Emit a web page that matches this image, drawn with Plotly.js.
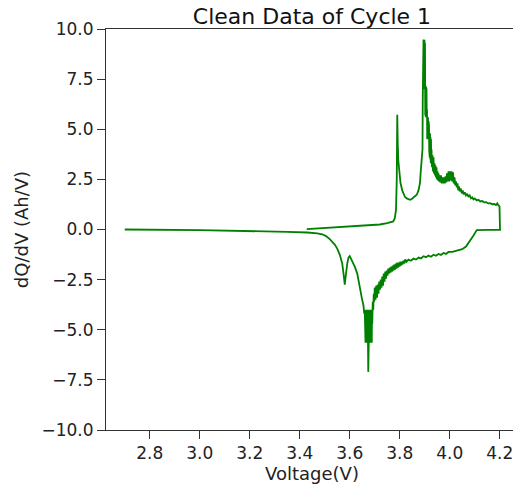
<!DOCTYPE html>
<html>
<head>
<meta charset="utf-8">
<script src="https://cdn.plot.ly/plotly-3.0.1.min.js"></script>
<style>html,body{margin:0;padding:0;overflow:hidden;background:#fff;}#chart{width:520px;height:486px;}</style>
</head>
<body>
<div id="chart"></div>
<script>
// Charge branch (3.43 V -> 4.20 V)
const chargeVoltage = [3.428,3.50,3.60,3.70,3.72,3.75,3.774,3.780,3.785,3.788,3.790,3.792,3.794,3.797,3.803,3.810,3.816,3.821,3.828,3.834,3.841,3.848,3.855,3.862,3.868,3.875,3.881,3.884,3.888,3.891,
  3.892,3.893,3.894,3.895,3.896,3.897,3.898,3.899,3.900,3.901,3.902,3.903,3.904,3.905,3.906,3.907,3.908,3.909,3.910,3.911,3.912,3.913,3.914,3.915,3.916,3.917,3.918,3.919,3.920,3.921,3.922,3.923,3.924,3.925,3.926,3.927,
  3.929,3.931,3.933,3.935,3.937,3.939,3.941,3.943,3.945,3.947,3.949,3.951,3.953,3.955,3.957,3.959,3.962,3.965,3.968,3.971,3.974,3.977,3.980,3.983,3.986,3.989,3.992,3.995,3.998,4.001,4.004,4.007,4.010,4.013,4.016,4.019,4.022,4.025,4.028,4.031,4.034,4.037,4.040,4.044,4.048,4.052,4.056,4.060,4.065,4.070,4.075,4.080,4.085,4.090,4.095,4.100,4.108,4.115,4.122,4.130,4.138,4.146,4.154,4.162,4.170,4.178,4.185,4.190,4.195,4.199,4.201];
const chargeDqdv = [0.02,0.08,0.15,0.23,0.25,0.32,0.40,0.55,0.98,2.5,5.72,4.3,3.48,3.0,2.32,1.95,1.75,1.62,1.55,1.50,1.48,1.52,1.58,1.65,1.73,1.95,2.32,2.9,3.6,4.0,
  6.5,9.47,7.0,9.47,7.0,9.47,7.0,9.47,7.1,9.3,5.7,7.2,5.6,7.1,5.6,7.0,5.6,6.0,4.5,5.6,4.5,5.6,4.5,5.4,4.5,5.2,3.9,4.8,3.6,4.8,3.5,4.6,3.3,4.5,3.3,4.0,
  3.1,3.7,2.9,3.6,2.8,3.3,2.7,3.2,2.6,3.1,2.5,2.9,2.45,2.8,2.4,2.7,2.35,2.7,2.3,2.6,2.3,2.6,2.3,2.65,2.35,2.8,2.4,2.9,2.4,2.9,2.45,2.9,2.4,2.85,2.3,2.6,2.2,2.4,2.1,2.3,1.95,2.15,1.9,2.05,1.8,1.95,1.75,1.85,1.7,1.78,1.62,1.7,1.55,1.6,1.5,1.55,1.45,1.48,1.4,1.42,1.35,1.36,1.3,1.31,1.26,1.27,1.22,1.3,1.2,1.15,0.02];
// Discharge branch (4.20 V -> 2.70 V)
const dischargeVoltage = [4.201,4.150,4.108,4.095,4.080,4.065,4.050,4.030,4.010,3.995,3.985,3.975,3.965,3.955,3.945,3.935,3.925,3.915,3.905,3.895,3.885,3.875,3.865,3.855,3.845,3.835,3.826,3.823,
  3.820,3.817,3.814,3.811,3.808,3.805,3.802,3.799,3.796,3.793,3.790,3.787,3.784,3.781,3.778,3.775,3.772,3.769,3.766,3.763,3.760,3.757,3.754,3.751,3.748,3.745,3.742,3.739,3.736,3.733,3.730,3.727,3.724,3.721,3.718,3.715,3.712,3.709,3.706,3.703,
  3.700,3.698,3.696,3.694,3.692,3.690,3.689,3.688,3.687,3.686,3.685,3.684,3.683,3.682,3.681,3.680,3.679,3.678,3.677,3.676,3.675,3.674,3.673,3.672,3.671,3.670,3.669,3.668,3.667,3.666,3.665,3.664,3.663,3.662,3.661,3.660,3.658,3.655,
  3.648,3.640,3.630,3.620,3.610,3.600,3.595,3.590,3.585,3.580,3.576,3.570,3.560,3.550,3.540,3.530,3.520,3.505,3.490,3.470,3.430,3.350,3.200,3.000,2.700];
const dischargeDqdv = [-0.02,-0.02,-0.03,-0.3,-0.6,-0.85,-0.98,-1.05,-1.12,-1.12,-1.22,-1.17,-1.27,-1.22,-1.31,-1.26,-1.36,-1.30,-1.38,-1.33,-1.44,-1.40,-1.50,-1.45,-1.56,-1.50,-1.62,-1.50,
  -1.55,-1.70,-1.55,-1.75,-1.6,-1.8,-1.6,-1.85,-1.65,-1.9,-1.65,-1.95,-1.7,-2.0,-1.75,-2.05,-1.8,-2.1,-1.85,-2.15,-1.9,-2.2,-1.95,-2.3,-2.05,-2.45,-2.1,-2.6,-2.2,-2.8,-2.35,-2.9,-2.5,-3.0,-2.6,-3.2,-2.75,-3.4,-2.8,-3.5,
  -2.9,-3.6,-3.2,-4.0,-3.6,-4.7,-4.0,-5.65,-4.0,-5.65,-4.0,-5.65,-4.0,-5.65,-4.0,-5.65,-4.0,-5.65,-4.0,-5.65,-4.0,-7.1,-5.65,-4.0,-5.65,-4.0,-5.65,-4.0,-5.65,-4.0,-5.65,-4.0,-5.65,-4.0,-5.0,-4.0,-4.2,-3.8,
  -3.4,-2.9,-2.2,-1.85,-1.55,-1.33,-1.4,-1.7,-2.2,-2.75,-2.3,-1.7,-1.25,-0.95,-0.75,-0.6,-0.48,-0.33,-0.24,-0.19,-0.15,-0.12,-0.07,-0.03,0.0];
const yTicks = [-10,-7.5,-5,-2.5,0,2.5,5,7.5,10];
const yTickText = ['\u221210.0','\u22127.5','\u22125.0','\u22122.5','0.0','2.5','5.0','7.5','10.0'];
const xTicks = [2.8,3.0,3.2,3.4,3.6,3.8,4.0,4.2];
const xTickText = ['2.8','3.0','3.2','3.4','3.6','3.8','4.0','4.2'];

const voltage = chargeVoltage.concat(dischargeVoltage);
const dqdv = chargeDqdv.concat(dischargeDqdv);

const font = 'DejaVu Sans, sans-serif';
Plotly.newPlot('chart', [{
  x: voltage, y: dqdv, type: 'scatter', mode: 'lines',
  line: {color: '#008000', width: 1.8}, hoverinfo: 'skip'
}], {
  width: 520, height: 486,
  margin: {l: 106, r: 2, t: 29, b: 56},
  paper_bgcolor: '#fff', plot_bgcolor: '#fff',
  showlegend: false,
  font: {family: font, color: '#222'},
  title: {text: 'Clean Data of Cycle 1', font: {family: font, size: 22, color: '#111'},
          x: 0.5, xref: 'paper', xanchor: 'center', y: 1, yref: 'paper', yanchor: 'bottom', pad: {b: 5}},
  xaxis: {range: [2.625, 4.273], tickvals: xTicks, ticktext: xTickText, ticks: 'outside', ticklen: 8,
          tickcolor: '#333', tickwidth: 1, showline: true, linecolor: '#333', linewidth: 1, mirror: true,
          showgrid: false, zeroline: false, tickfont: {size: 17, family: font, color: '#222'},
          title: {text: 'Voltage(V)', font: {size: 18, family: font, color: '#222'}, standoff: 4}},
  yaxis: {range: [-10, 10], tickvals: yTicks, ticktext: yTickText, ticks: 'outside', ticklen: 8,
          tickcolor: '#333', tickwidth: 1, showline: true, linecolor: '#333', linewidth: 1, mirror: true,
          showgrid: false, zeroline: false, tickfont: {size: 17, family: font, color: '#222'},
          title: {text: 'dQ/dV (Ah/V)', font: {size: 18, family: font, color: '#222'}, standoff: 8}}
}, {staticPlot: true, displayModeBar: false});
</script>
</body>
</html>
